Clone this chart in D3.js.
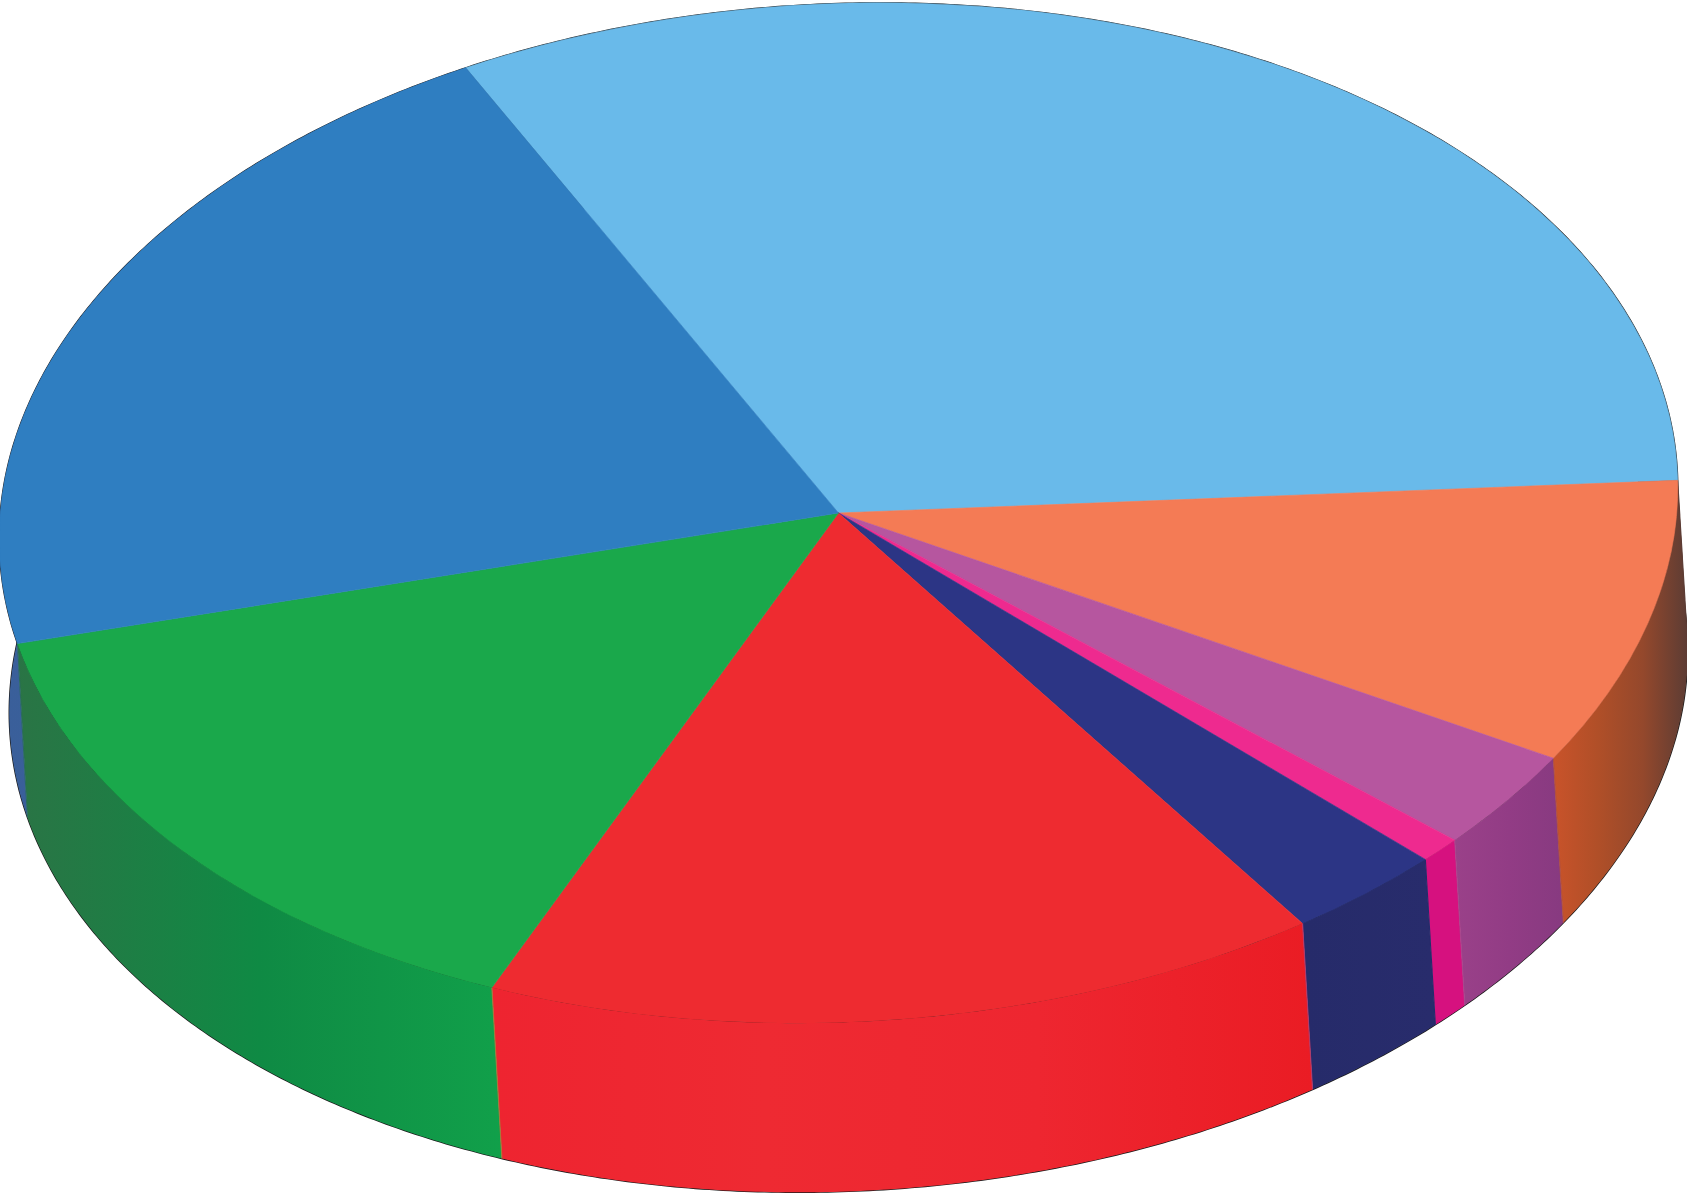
<!DOCTYPE html>
<html>
<head>
<meta charset="utf-8">
<style>
  html, body { margin:0; padding:0; background:#fff; }
  svg { display:block; }
</style>
<script src="https://cdn.jsdelivr.net/npm/d3@7"></script>
</head>
<body>
<div id="chart"></div>
<script>
// slices clockwise, starting at the light blue one
var sliceNames = ["lightBlue","orange","purple","pink","navy","red","green","blue"]
var sliceValues = [32.1, 9.0, 3.1, 0.8, 3.0, 16.1, 14.9, 21.0]
var topColors = ["#69baea","#f47b55","#b6569f","#ee2a8f","#2c3585","#ee2b30","#1aa84b","#2f7ec1"]
// wall shading, left to right inside each slice
var wallColors = [
  ["#5c3c34","#5c3c34"],
  ["#c9532a","#b04f28","#94482c","#5c3c34"],
  ["#9a4189","#923c85","#873a80"],
  ["#d6117f","#d6117f"],
  ["#262b6a","#282c6c"],
  ["#ee2430","#ee2a32","#ee2630","#ea1c24"],
  ["#2a7445","#0f8a44","#11a04a"],
  ["#3a5f9a","#34639e"]
]
// seam at the start of each slice
var seamColors = ["#2f7ec1","#5c3c34","#b0503f","#a8468c","#262b6a","#b03a6a","#a8783a","#2a6a60"]

initChart()
function initChart(){
  var width = 1687
  var height = 1194
  var cx = 838.5
  var cy = 513
  var rx = 839
  var ry = 510
  var tilt = 0.025   // the disc leans a little, lower left to upper right
  var lowerTilt = 0.035
  var wallX = 10
  var wallY = 169

  var svg = d3.select("#chart").append("svg")
    .attr("width", width)
    .attr("height", height)

  var pie = d3.pie().sort(null).startAngle(-27.8*Math.PI/180).endAngle(332.2*Math.PI/180)
  var slices = pie(sliceValues)

  function rimX(a){ return cx + rx*(Math.sin(a) + tilt*Math.cos(a)) }
  function rimY(a){ return cy - ry*(Math.cos(a) + tilt*Math.sin(a)) }
  function lowX(a){ return rimX(a) + wallX }
  function lowY(a){ return cy + wallY - ry*(Math.cos(a) + lowerTilt*Math.sin(a)) }

  var line = d3.line().x(function(d){return d[0]}).y(function(d){return d[1]})

  function rimPoints(a0, a1, fx, fy){
    var n = Math.max(2, Math.ceil((a1-a0)*120))
    return d3.range(n+1).map(function(i){
      var a = a0 + (a1-a0)*i/n
      return [fx(a), fy(a)]
    })
  }

  // thin dark outline, only the outer half of it stays visible
  var full = Math.PI*2
  svg.append("path")
    .attr("d", line(rimPoints(0, full, rimX, rimY))+"Z")
    .attr("fill","none").attr("stroke","#1a1a1a").attr("stroke-width",1.4)
  svg.append("path")
    .attr("d", line(rimPoints(0, full, lowX, lowY))+"Z")
    .attr("fill","none").attr("stroke","#1a1a1a").attr("stroke-width",1.4)

  var defs = svg.append("defs")
  slices.forEach(function(s, i){
    var pts = rimPoints(s.startAngle, s.endAngle, rimX, rimY)
    var grad = defs.append("linearGradient")
      .attr("id","wall"+i)
      .attr("gradientUnits","userSpaceOnUse")
      .attr("x1", d3.min(pts,function(d){return d[0]})).attr("y1",0)
      .attr("x2", d3.max(pts,function(d){return d[0]})+wallX).attr("y2",0)
    wallColors[i].forEach(function(c, j){
      grad.append("stop")
        .attr("offset", j/(wallColors[i].length-1))
        .attr("stop-color", c)
    })
  })

  // side walls
  svg.append("g").selectAll("path")
    .data(slices)
    .enter()
    .append("path")
    .attr("d", function(s){
      var upper = rimPoints(s.startAngle, s.endAngle, rimX, rimY)
      var lower = rimPoints(s.startAngle, s.endAngle, lowX, lowY).reverse()
      return line(upper.concat(lower))+"Z"
    })
    .attr("fill", function(s,i){return "url(#wall"+i+")"})

  // thin seams where two walls meet
  svg.append("g").selectAll("line")
    .data(slices)
    .enter()
    .append("line")
    .attr("x1", function(s){return rimX(s.startAngle)})
    .attr("y1", function(s){return rimY(s.startAngle)})
    .attr("x2", function(s){return lowX(s.startAngle)})
    .attr("y2", function(s){return lowY(s.startAngle)})
    .attr("stroke", function(s,i){return seamColors[i]})
    .attr("stroke-width",1.1)

  // top face
  var arc = d3.arc().innerRadius(0).outerRadius(100)
  svg.append("g")
    .attr("transform","matrix("+rx/100+","+(-ry*tilt/100)+","+(-rx*tilt/100)+","+ry/100+","+cx+","+cy+")")
    .selectAll("path")
    .data(slices)
    .enter()
    .append("path")
    .attr("d", arc)
    .attr("fill", function(s,i){return topColors[i]})
    .attr("stroke", function(s,i){return topColors[i]})
    .attr("stroke-width",0.6)
    .attr("vector-effect","non-scaling-stroke")
    .attr("data-name", function(s,i){return sliceNames[i]})
}
</script>
</body>
</html>
